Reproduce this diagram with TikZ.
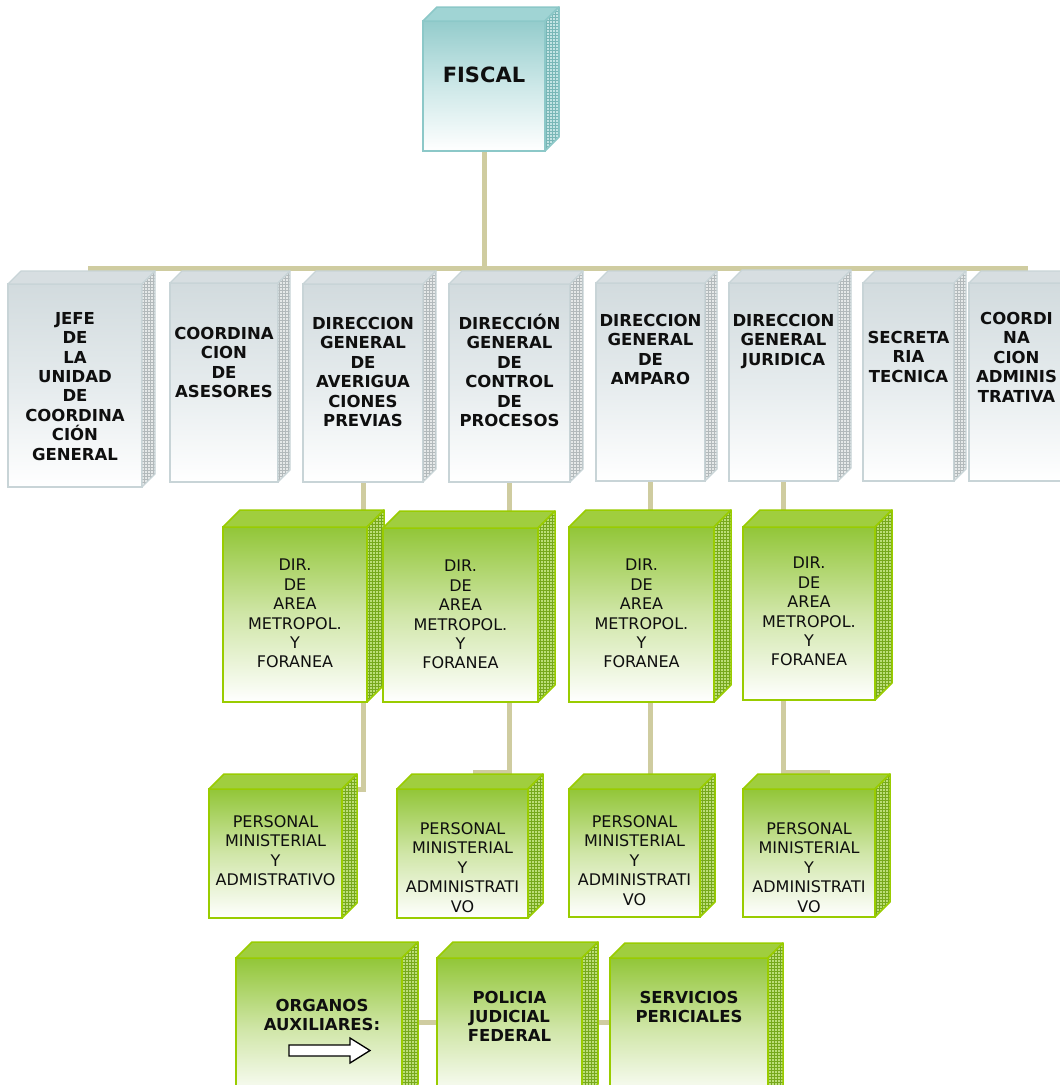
\documentclass[tikz,border=0pt]{standalone}
\usepackage{fontspec}
\setmainfont{DejaVu Sans}
\usetikzlibrary{patterns}
\pgfdeclarelayer{background}
\pgfsetlayers{background,main}

\definecolor{cTxt}{RGB}{15,15,15}
\definecolor{cConn}{RGB}{207,204,160}
% green
\definecolor{cGtop}{RGB}{146,198,56}
\definecolor{cGmid}{RGB}{208,230,168}
\definecolor{cGline}{RGB}{153,204,0}
\definecolor{cGface}{RGB}{160,206,62}
\definecolor{cGside}{RGB}{188,222,120}
\definecolor{cGpat}{RGB}{118,168,28}
% teal
\definecolor{cTtop}{RGB}{148,204,204}
\definecolor{cTmid}{RGB}{205,232,232}
\definecolor{cTline}{RGB}{140,200,200}
\definecolor{cTface}{RGB}{160,212,212}
\definecolor{cTside}{RGB}{195,228,228}
\definecolor{cTpat}{RGB}{120,182,182}
% grey
\definecolor{cKtop}{RGB}{210,219,222}
\definecolor{cKmid}{RGB}{229,235,237}
\definecolor{cKline}{RGB}{200,212,215}
\definecolor{cKface}{RGB}{215,222,225}
\definecolor{cKside}{RGB}{230,233,233}
\definecolor{cKpat}{RGB}{178,185,187}

\tikzset{
  frontbase/.style={rectangle, inner sep=0pt, outer sep=0pt},
  gfront/.style={frontbase, draw=cGline, line width=2pt, top color=cGtop, bottom color=white, middle color=cGmid},
  gtopface/.style={fill=cGface, draw=cGline, line width=1.5pt, line join=round},
  gside/.style={fill=cGside},
  gpat/.style={pattern=grid, pattern color=cGpat},
  gedge/.style={draw=cGline, line width=1.5pt, line join=round},
  tfront/.style={frontbase, draw=cTline, line width=2pt, top color=cTtop, bottom color=white, middle color=cTmid},
  ttopface/.style={fill=cTface, draw=cTline, line width=1.5pt, line join=round},
  tside/.style={fill=cTside},
  tpat/.style={pattern=grid, pattern color=cTpat},
  tedge/.style={draw=cTline, line width=1.5pt, line join=round},
  kfront/.style={frontbase, draw=cKline, line width=1.5pt, top color=cKtop, bottom color=white, middle color=cKmid},
  ktopface/.style={fill=cKface, draw=cKline, line width=1.2pt, line join=round},
  kside/.style={fill=cKside},
  kpat/.style={pattern=grid, pattern color=cKpat},
  kedge/.style={draw=cKline, line width=1.2pt, line join=round},
  tb/.style={font=\bfseries\fontsize{16.5}{19.4}\selectfont, align=center, inner sep=0pt, anchor=north, text=cTxt},
  tr/.style={font=\fontsize{16}{19.4}\selectfont, align=center, inner sep=0pt, anchor=north, text=cTxt},
  trp/.style={font=\fontsize{16}{19.6}\selectfont, align=center, inner sep=0pt, anchor=north, text=cTxt},
  conn/.style={draw=cConn, line width=5pt},
}

% \cubebox{name}{x0}{y0}{x1}{y1}{depth}{style prefix}
\newcommand{\cubebox}[7]{%
  \node[#7front, minimum width={#4-#2}, minimum height={#5-#3}] (#1) at ({(#2+#4)/2},{(#3+#5)/2}) {};
  \path[#7topface] (#1.north west) -- ++(#6,-#6) -- ([shift={(#6,-#6)}]#1.north east) -- (#1.north east) -- cycle;
  \fill[#7side] (#1.north east) -- ++(#6,-#6) -- ([shift={(#6,-#6)}]#1.south east) -- (#1.south east) -- cycle;
  \fill[#7pat] (#1.north east) -- ++(#6,-#6) -- ([shift={(#6,-#6)}]#1.south east) -- (#1.south east) -- cycle;
  \draw[#7edge] (#1.north east) -- ++(#6,-#6) -- ([shift={(#6,-#6)}]#1.south east) -- (#1.south east) -- cycle;
}

\begin{document}
\begin{tikzpicture}[x=1pt, y=-1pt]
\useasboundingbox (0,0) rectangle (1060,1085);
\clip (0,0) rectangle (1060,1085);
\begin{pgfonlayer}{background}
  \fill[white] (0,0) rectangle (1060,1085);
\end{pgfonlayer}

% top
\cubebox{fiscal}{423}{21}{545}{151}{14}{t}
\node[font=\bfseries\fontsize{21}{24}\selectfont, inner sep=0pt, anchor=north, text=cTxt] (fiscal-t) at ([yshift=-46pt]fiscal.north) {FISCAL};

% second row
\cubebox{jefe}{8}{284}{142}{487}{13}{k}
\cubebox{ases}{170}{283}{278}{482}{12}{k}
\cubebox{dgap}{303}{284}{423}{482}{13}{k}
\cubebox{dgcp}{449}{284}{570}{482}{13}{k}
\cubebox{ampa}{596}{283}{705}{481}{12}{k}
\cubebox{juri}{729}{283}{838}{481}{13}{k}
\cubebox{secr}{863}{283}{954}{481}{12}{k}
\cubebox{cadm}{969}{283}{1064}{481}{12}{k}

\node[tb] (jefe-t) at ([yshift=-28pt]jefe.north) {JEFE\\DE\\LA\\UNIDAD\\DE\\COORDINA\\CIÓN\\GENERAL};
\node[tb] (ases-t) at ([yshift=-44pt]ases.north) {COORDINA\\CION\\DE\\ASESORES};
\node[tb] (dgap-t) at ([yshift=-33pt]dgap.north) {DIRECCION\\GENERAL\\DE\\AVERIGUA\\CIONES\\PREVIAS};
\node[tb] (dgcp-t) at ([yshift=-30pt]dgcp.north) {DIRECCIÓN\\GENERAL\\DE\\CONTROL\\DE\\PROCESOS};
\node[tb] (ampa-t) at ([yshift=-31pt]ampa.north) {DIRECCION\\GENERAL\\DE\\AMPARO};
\node[tb] (juri-t) at ([yshift=-31pt]juri.north) {DIRECCION\\GENERAL\\JURIDICA};
\node[tb] (secr-t) at ([yshift=-48pt]secr.north) {SECRETA\\RIA\\TECNICA};
\node[tb] (cadm-t) at ([yshift=-29pt]cadm.north) {COORDI\\NA\\CION\\ADMINIS\\TRATIVA};

% third row
\cubebox{g1}{223}{527}{367}{702}{17}{g}
\cubebox{g2}{383}{528}{538}{702}{17}{g}
\cubebox{g3}{569}{527}{714}{702}{17}{g}
\cubebox{g4}{743}{527}{875}{700}{17}{g}
\node[tr] (g1-t) at ([yshift=-32pt]g1.north) {DIR.\\DE\\AREA\\METROPOL.\\Y\\FORANEA};
\node[tr] (g2-t) at ([yshift=-32pt]g2.north) {DIR.\\DE\\AREA\\METROPOL.\\Y\\FORANEA};
\node[tr] (g3-t) at ([yshift=-32pt]g3.north) {DIR.\\DE\\AREA\\METROPOL.\\Y\\FORANEA};
\node[tr] (g4-t) at ([yshift=-30pt]g4.north) {DIR.\\DE\\AREA\\METROPOL.\\Y\\FORANEA};

% fourth row
\cubebox{p1}{209}{789}{342}{918}{15}{g}
\cubebox{p2}{397}{789}{528}{918}{15}{g}
\cubebox{p3}{569}{789}{700}{917}{15}{g}
\cubebox{p4}{743}{789}{875}{917}{15}{g}
\node[trp] (p1-t) at ([yshift=-26pt]p1.north) {PERSONAL\\MINISTERIAL\\Y\\ADMISTRATIVO};
\node[trp] (p2-t) at ([yshift=-33pt]p2.north) {PERSONAL\\MINISTERIAL\\Y\\ADMINISTRATI\\VO};
\node[trp] (p3-t) at ([yshift=-26pt]p3.north) {PERSONAL\\MINISTERIAL\\Y\\ADMINISTRATI\\VO};
\node[trp] (p4-t) at ([yshift=-33pt]p4.north) {PERSONAL\\MINISTERIAL\\Y\\ADMINISTRATI\\VO};

% bottom row
\cubebox{org}{236}{958}{402}{1100}{16}{g}
\cubebox{pol}{437}{958}{582}{1100}{16}{g}
\cubebox{serv}{610}{958}{768}{1100}{15}{g}
\node[tb, font=\bfseries\fontsize{16.5}{19}\selectfont] (org-t) at ([xshift=3pt, yshift=-41pt]org.north) {ORGANOS\\AUXILIARES:};
\node[tb, font=\bfseries\fontsize{16.5}{19}\selectfont] (pol-t) at ([yshift=-33pt]pol.north) {POLICIA\\JUDICIAL\\FEDERAL};
\node[tb, font=\bfseries\fontsize{16.5}{19}\selectfont] (serv-t) at ([yshift=-33pt]serv.north) {SERVICIOS\\PERICIALES};
\draw[black, line width=1.3pt, fill=white, line join=miter]
  (289,1045) -- (350,1045) -- (350,1038) -- (370,1050.5) -- (350,1063) -- (350,1056) -- (289,1056) -- cycle;

% connectors
\coordinate (barL) at (88,268);
\coordinate (barR) at (1028,268);
\coordinate (k2) at (475,772);
\coordinate (k4) at (827,772);
\coordinate (kb) at (0,1022);
\begin{pgfonlayer}{background}
  \draw[conn] (barL) -- (barR);
  \draw[conn] (fiscal.south) -- (fiscal.south |- barL);
  \draw[conn] (dgap.south) -- (dgap.south |- p1.north) -- (p1.north east);
  \draw[conn] (dgcp.south) |- (k2) -- (k2 |- p2.north);
  \draw[conn] (ampa.south) -- (ampa.south |- p3.north);
  \draw[conn] (juri.south) |- (k4) -- (k4 |- p4.north);
  \draw[conn] (org.east |- kb) -- (serv.west |- kb);
\end{pgfonlayer}
\end{tikzpicture}
\end{document}
